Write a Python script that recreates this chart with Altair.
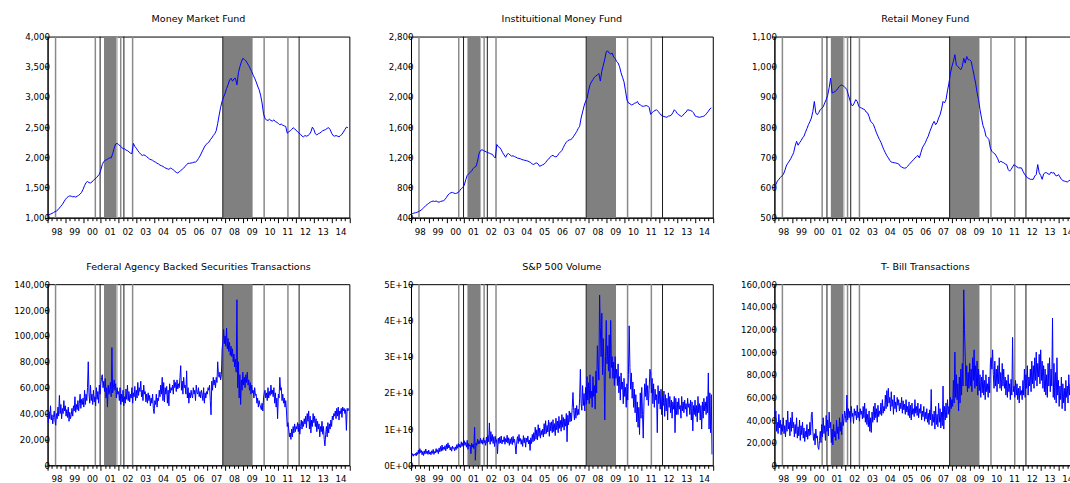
import altair as alt
import pandas as pd

FONT = "DejaVu Sans"

# ---------------- data ----------------
# monthly, Jan 1998 .. Dec 2014 (billions of dollars)
money_market = [
    1040, 1050, 1060, 1070, 1085, 1100, 1110, 1130, 1160, 1190, 1220, 1260,
    1300, 1330, 1350, 1360, 1355, 1345, 1350, 1340, 1355, 1370, 1390, 1420,
    1470, 1530, 1580, 1600, 1580, 1575, 1590, 1620, 1640, 1660, 1690, 1720,
    1790, 1880, 1930, 1950, 1960, 1980, 1990, 1990, 2060, 2150, 2220, 2230,
    2210, 2190, 2170, 2140, 2140, 2120, 2110, 2090, 2070, 2060, 2230, 2180,
    2150, 2110, 2080, 2050, 2030, 2040, 2030, 2010, 1990, 1970, 1960, 1950,
    1930, 1920, 1900, 1890, 1870, 1860, 1850, 1830, 1820, 1810, 1800, 1820,
    1815, 1790, 1770, 1750, 1740, 1760, 1780, 1800, 1820, 1850, 1880, 1900,
    1900, 1905, 1910, 1920, 1920, 1940, 1980, 2020, 2070, 2120, 2170, 2210,
    2230, 2250, 2290, 2320, 2360, 2390, 2440, 2560, 2700, 2830, 2930, 3000,
    3060, 3140, 3200, 3280, 3310, 3260, 3300, 3310, 3200, 3400, 3500, 3580,
    3640, 3620, 3600, 3560, 3520, 3470, 3420, 3360, 3310, 3250, 3180, 3120,
    3030, 2900, 2720, 2640, 2620, 2610, 2630, 2610, 2600, 2620, 2590, 2580,
    2560, 2540, 2550, 2530, 2520, 2510, 2400, 2420, 2440, 2460, 2490, 2470,
    2450, 2420, 2400, 2380, 2350, 2340, 2360, 2350, 2360, 2380, 2420, 2500,
    2460, 2390, 2370, 2390, 2400, 2420, 2440, 2450, 2460, 2480, 2490, 2460,
    2400, 2360, 2350, 2360, 2350, 2340, 2360, 2380, 2420, 2460, 2500, 2490,
]
institutional = [
    450, 455, 460, 465, 470, 480, 490, 500, 520, 540, 560, 575,
    590, 605, 615, 620, 615, 620, 610, 605, 615, 620, 625, 640,
    670, 700, 720, 730, 735, 725, 720, 725, 735, 760, 785, 800,
    830, 900, 960, 980, 1000, 1020, 1050, 1070, 1080, 1150, 1250, 1290,
    1300, 1290, 1280, 1270, 1260, 1255, 1245, 1240, 1210, 1190, 1370, 1340,
    1330, 1300, 1260, 1230, 1200, 1240, 1250, 1230, 1215, 1220, 1210, 1200,
    1190, 1185, 1180, 1170, 1165, 1160, 1155, 1150, 1140, 1130, 1110, 1105,
    1120, 1125, 1110, 1080, 1090, 1100, 1110, 1130, 1160, 1175, 1200, 1220,
    1225, 1210, 1205, 1220, 1250, 1270, 1290, 1330, 1370, 1400, 1420, 1430,
    1435, 1450, 1480, 1510, 1540, 1580, 1610, 1720, 1800, 1880, 1940, 1980,
    2080, 2160, 2200, 2230, 2260, 2280, 2290, 2310, 2210, 2340, 2420, 2500,
    2600, 2610, 2580, 2570, 2580, 2530, 2510, 2470, 2450, 2400, 2320, 2260,
    2200, 2080, 1960, 1920, 1910, 1895, 1900, 1915, 1920, 1940, 1905, 1895,
    1880, 1875, 1880, 1885, 1880, 1860, 1770, 1790, 1810, 1820, 1830, 1810,
    1785, 1760, 1750, 1740, 1735, 1730, 1745, 1750, 1760, 1790, 1830, 1810,
    1780, 1765, 1750, 1740, 1760, 1785, 1800, 1830, 1825, 1820, 1810, 1790,
    1750, 1740, 1735, 1730, 1735, 1740, 1745, 1760, 1785, 1810, 1840, 1855,
]
retail = [
    594, 610, 621, 627, 633, 638, 643, 655, 671, 680, 687, 695,
    705, 715, 737, 753, 740, 748, 755, 764, 770, 783, 795, 808,
    818, 830, 852, 885, 847, 841, 848, 858, 862, 867, 880, 891,
    905, 930, 962, 913, 915, 918, 922, 929, 935, 940, 938, 935,
    930, 924, 907, 890, 874, 871, 880, 891, 885, 869, 865, 863,
    860, 858, 850, 847, 835, 819, 815, 808, 795, 781, 770, 759,
    750, 737, 725, 715, 705, 698, 690, 684, 683, 682, 681, 680,
    678, 671, 668, 665, 664, 665, 670, 676, 681, 687, 692, 698,
    702, 706, 698, 715, 731, 740, 748, 760, 770, 785, 797, 810,
    819, 808, 815, 830, 841, 860, 885, 880, 891, 920, 946, 979,
    1001, 1018, 1040, 1006, 1001, 995, 990, 1001, 1028, 1012, 1034, 1023,
    1023, 1018, 995, 970, 946, 915, 891, 858, 830, 805, 792, 770,
    765, 759, 730, 720, 715, 712, 704, 695, 682, 687, 684, 682,
    678, 676, 660, 654, 660, 668, 676, 671, 668, 665, 665, 665,
    654, 645, 638, 632, 630, 627, 627, 627, 638, 643, 676, 649,
    640, 627, 645, 649, 649, 645, 643, 651, 648, 649, 640, 638,
    643, 635, 627, 623, 621, 620, 618, 622, 625, 628, 624, 626,
]

# semi-monthly, 1998 .. 2014 (24 values per year)
agency_thousands = [
    38, 33, 41, 36, 46, 35, 39, 32, 37, 42, 35, 31, 40, 36, 45, 38, 54, 40, 47, 36, 44, 40, 50, 42,
    46, 38, 43, 37, 45, 34, 41, 36, 39, 44, 38, 46, 42, 53, 41, 47, 43, 50, 42, 48, 55, 44, 51, 47,
    52, 45, 58, 47, 55, 50, 60, 80, 56, 48, 62, 50, 55, 47, 58, 49, 53, 46, 60, 51, 57, 48, 62, 55,
    63, 68, 70, 60, 65, 57, 67, 52, 60, 45, 62, 55, 58, 64, 53, 91, 56, 60, 66, 58, 63, 52, 60, 55,
    57, 50, 60, 47, 55, 49, 58, 46, 53, 48, 59, 51, 62, 50, 57, 49, 55, 52, 60, 48, 56, 53, 61, 50,
    58, 52, 64, 54, 60, 57, 65, 53, 58, 50, 62, 55, 57, 49, 55, 48, 56, 50, 54, 46, 52, 48, 55, 44,
    40, 50, 47, 55, 45, 52, 50, 58, 53, 62, 55, 68, 50, 64, 49, 60, 55, 61, 48, 58, 46, 63, 56, 60,
    58, 62, 55, 66, 60, 64, 57, 66, 59, 63, 60, 68, 77, 58, 65, 55, 68, 60, 62, 55, 73, 52, 60, 48,
    56, 52, 58, 54, 52, 60, 55, 58, 50, 62, 56, 55, 60, 53, 57, 52, 58, 55, 50, 60, 48, 56, 52, 57,
    55, 60, 58, 62, 50, 39, 65, 58, 68, 62, 66, 60, 68, 64, 80, 70, 68, 72, 66, 70, 90, 95, 105, 94,
    100, 92, 106, 90, 98, 88, 95, 85, 92, 84, 90, 80, 86, 76, 82, 72, 128, 60, 80, 52, 70, 47, 66, 58,
    72, 62, 68, 60, 70, 64, 72, 62, 66, 58, 64, 55, 62, 56, 58, 52, 60, 54, 55, 48, 52, 45, 50, 47,
    45, 43, 48, 42, 52, 56, 58, 52, 56, 50, 60, 52, 57, 54, 62, 55, 58, 53, 60, 48, 56, 45, 52, 36,
    55, 52, 68, 58, 60, 50, 55, 48, 52, 45, 50, 42, 30, 33, 28, 22, 25, 20, 28, 22, 30, 25, 32, 26,
    30, 28, 33, 26, 32, 24, 30, 35, 28, 34, 30, 36, 32, 38, 29, 40, 34, 42, 28, 38, 25, 35, 30, 40,
    33, 38, 30, 36, 26, 34, 28, 32, 22, 30, 26, 34, 24, 30, 20, 15, 24, 30, 22, 33, 25, 32, 28, 35,
    30, 38, 35, 40, 38, 42, 36, 44, 38, 45, 35, 42, 40, 44, 37, 45, 42, 44, 40, 43, 27, 44, 42, 44,
]
sp500_volume_e9 = [
    3.0, 2.7, 3.2, 2.5, 3.1, 2.8, 3.3, 2.6, 3.6, 3.0, 4.2, 3.2, 4.6, 3.5, 4.1, 2.9, 3.8, 2.7, 4.0, 3.1, 4.5, 3.3, 3.9, 3.0,
    4.2, 3.1, 3.7, 2.9, 4.0, 3.3, 4.4, 3.0, 3.8, 3.4, 4.6, 3.6, 4.3, 3.2, 4.8, 3.7, 5.2, 3.9, 5.6, 4.1, 5.0, 4.4, 5.4, 4.0,
    5.8, 4.5, 6.2, 4.8, 5.5, 4.2, 5.0, 3.9, 5.3, 4.6, 4.9, 4.0, 5.1, 4.3, 5.7, 4.7, 6.0, 5.0, 5.8, 4.9, 6.5, 5.2, 6.2, 5.4,
    6.8, 5.5, 6.3, 5.0, 6.9, 4.4, 6.0, 5.3, 5.6, 3.2, 6.1, 5.0, 5.8, 4.6, 10.5, 1.4, 6.2, 5.5, 7.2, 5.9, 6.8, 6.0, 7.5, 6.1,
    7.0, 5.8, 7.6, 6.2, 6.9, 5.5, 7.8, 6.1, 8.2, 6.5, 11.7, 5.8, 9.3, 6.6, 8.5, 6.0, 7.9, 5.2, 8.0, 6.3, 7.1, 3.2, 7.5, 6.0,
    7.8, 6.2, 8.1, 5.9, 7.0, 6.5, 7.9, 5.8, 7.4, 6.4, 8.3, 6.1, 7.6, 5.5, 7.3, 6.0, 7.7, 5.7, 8.0, 6.3, 7.2, 5.4, 3.1, 6.5,
    7.9, 6.0, 8.5, 6.6, 7.4, 5.8, 7.1, 5.2, 8.2, 6.2, 7.6, 5.0, 7.5, 6.4, 8.1, 5.9, 7.0, 4.1, 7.6, 6.0, 8.5, 6.5, 9.0, 6.8,
    10.5, 7.2, 9.8, 7.0, 11.2, 8.0, 10.3, 7.5, 9.6, 8.4, 10.0, 7.8, 11.5, 8.6, 12.3, 8.8, 11.0, 9.2, 12.5, 8.0, 11.8, 9.5, 12.0, 9.0,
    12.6, 9.3, 11.5, 8.2, 13.0, 9.8, 12.2, 9.0, 13.5, 10.2, 12.4, 9.4, 14.0, 10.5, 13.2, 9.7, 12.8, 10.8, 14.3, 6.5, 13.8, 11.2, 15.0, 12.0,
    14.5, 12.2, 16.0, 20.1, 15.2, 12.5, 15.8, 13.0, 16.5, 13.8, 15.5, 14.0, 18.5, 26.5, 17.0, 15.2, 22.0, 16.5, 19.8, 15.0, 21.5, 16.8, 24.5, 18.0,
    22.8, 17.0, 25.0, 18.5, 20.5, 16.0, 24.5, 19.0, 22.0, 15.5, 26.0, 20.0, 33.0, 28.0, 23.5, 47.0, 38.0, 30.0, 42.0, 25.0, 35.0, 27.0, 12.5, 30.0,
    40.0, 28.0, 33.0, 26.0, 36.0, 24.0, 40.0, 27.0, 30.0, 24.0, 28.5, 22.0, 30.0, 24.0, 26.5, 22.0, 28.0, 20.0, 24.5, 18.0, 25.5, 21.0, 23.0, 17.0,
    24.0, 19.0, 21.5, 16.0, 22.5, 18.0, 25.0, 38.5, 27.0, 21.0, 25.5, 18.5, 23.0, 16.0, 21.0, 14.5, 19.5, 12.0, 17.5, 10.5, 16.0, 8.5, 20.0, 13.0,
    21.5, 14.0, 7.5, 17.5, 22.5, 19.0, 24.0, 18.0, 22.0, 16.5, 21.0, 26.5, 25.5, 20.0, 24.0, 17.0, 22.5, 16.0, 21.0, 18.0, 19.5, 9.0, 22.0, 17.0,
    20.5, 15.5, 21.0, 14.0, 19.0, 16.5, 20.5, 13.5, 19.5, 15.0, 18.5, 12.5, 20.0, 16.0, 19.0, 14.5, 18.0, 13.0, 17.5, 15.5, 19.0, 9.0, 18.5, 14.0,
    17.5, 14.0, 18.5, 15.5, 16.5, 13.0, 19.0, 15.0, 17.5, 14.5, 18.0, 15.5, 17.0, 13.5, 18.5, 16.0, 17.0, 14.0, 18.0, 12.5, 17.5, 9.5, 16.5, 14.0,
    18.0, 13.5, 16.5, 12.0, 19.0, 14.5, 17.0, 12.5, 16.5, 10.0, 17.5, 13.0, 18.5, 15.0, 17.5, 14.0, 19.0, 14.5, 25.5, 10.0, 20.0, 9.0, 19.5, 3.0,
]
tbill_thousands = [
    50, 42, 48, 30, 38, 28, 45, 33, 40, 27, 36, 30, 42, 28, 35, 25, 40, 30, 48, 32, 38, 26, 42, 30,
    47, 33, 38, 25, 36, 28, 42, 24, 34, 26, 40, 22, 35, 27, 38, 24, 33, 21, 30, 25, 36, 23, 32, 26,
    38, 27, 45, 47, 30, 22, 28, 18, 32, 24, 26, 16, 14, 22, 30, 20, 36, 25, 42, 28, 35, 22, 44, 30,
    40, 26, 47, 33, 38, 20, 32, 18, 36, 25, 30, 22, 40, 28, 34, 23, 42, 30, 38, 27, 45, 35, 40, 48,
    44, 38, 62, 40, 50, 42, 48, 38, 52, 43, 46, 37, 50, 44, 48, 40, 53, 42, 47, 39, 50, 45, 48, 41,
    52, 42, 55, 38, 50, 36, 45, 34, 48, 30, 42, 29, 47, 38, 52, 40, 55, 42, 50, 38, 53, 43, 48, 45,
    55, 44, 58, 46, 52, 48, 62, 50, 66, 52, 68, 55, 60, 48, 65, 52, 58, 45, 62, 50, 56, 47, 60, 53,
    58, 48, 55, 50, 60, 46, 57, 49, 54, 45, 58, 47, 52, 44, 56, 42, 53, 40, 55, 45, 50, 43, 58, 46,
    52, 44, 55, 42, 50, 46, 54, 40, 48, 43, 52, 39, 47, 41, 50, 38, 46, 36, 49, 40, 67, 35, 45, 38,
    48, 32, 52, 36, 45, 34, 55, 38, 50, 33, 47, 35, 70, 32, 52, 40, 55, 42, 58, 45, 52, 47, 60, 50,
    58, 52, 75, 55, 100, 60, 80, 58, 72, 48, 78, 55, 85, 62, 90, 70, 155, 120, 95, 70, 88, 65, 82, 68,
    90, 70, 85, 65, 95, 75, 102, 68, 88, 70, 92, 62, 85, 66, 80, 60, 78, 64, 84, 62, 75, 58, 80, 65,
    72, 60, 78, 64, 90, 95, 85, 102, 80, 68, 92, 70, 85, 65, 88, 72, 95, 68, 82, 66, 90, 70, 85, 68,
    78, 62, 75, 60, 80, 65, 72, 58, 76, 62, 113, 65, 70, 60, 75, 62, 72, 58, 68, 55, 70, 62, 66, 58,
    75, 62, 85, 60, 80, 68, 88, 62, 78, 70, 85, 65, 92, 72, 88, 68, 95, 75, 100, 70, 90, 78, 98, 72,
    102, 75, 92, 68, 88, 65, 85, 62, 80, 60, 90, 70, 95, 65, 85, 70, 130, 60, 90, 58, 82, 55, 95, 62,
    75, 52, 70, 58, 78, 50, 72, 55, 68, 48, 75, 60, 70, 55, 80, 62, 72, 58, 78, 55, 70, 60, 75, 62,
]

# shaded periods and event lines (decimal years)
shade_start = [2001.18, 2007.88]
shade_end = [2001.89, 2009.55]
shade_edge_start = [2001.89]
shade_edge_end = [2001.95]
events_gray = [1998.45, 2000.69, 2002.12, 2002.79, 2010.20, 2011.54]
events_dark = [2000.96, 2002.30, 2007.87, 2012.17]

X_START, X_END = 1998, 2015

# ---------------- helpers ----------------
def monthly_df(vals, scale=1.0):
    return pd.DataFrame({"x": [X_START + i / 12 for i in range(len(vals))],
                         "v": [v * scale for v in vals]})

def semi_df(vals, scale=1.0):
    return pd.DataFrame({"x": [X_START + i / 24 for i in range(len(vals))],
                         "v": [v * scale for v in vals]})

shade_df = pd.DataFrame({"s": shade_start, "e": shade_end})
edge_df = pd.DataFrame({"s": shade_edge_start, "e": shade_edge_end})
gray_df = pd.DataFrame({"x": events_gray})
dark_df = pd.DataFrame({"x": events_dark})

x_scale = alt.Scale(domain=[X_START, X_END], nice=False, zero=False)
quarters = [X_START + q / 4 for q in range(0, (X_END - X_START) * 4 + 1)]
x_axis = alt.Axis(
    values=quarters,
    labelExpr="datum.value % 1 == 0.5 ? format(floor(datum.value) % 100, '02d') : ''",
    tickSize={"condition": {"test": "datum.value % 1 == 0", "value": 5}, "value": 3},
    labelPadding=6.5, grid=False, domainColor="black", tickColor="black",
    labelColor="black", labelFont=FONT, labelFontSize=8.7, labelAngle=0,
    labelOverlap=False, labelFlush=False, minExtent=25, maxExtent=25, title=None,
)

W, H = 302.6, 181.6


def panel(title, df, ymin, ymax, ystep, label_expr=None):
    yticks = list(range(ymin, ymax + 1, ystep))
    yax = dict(values=yticks, tickSize=3, labelPadding=-5, grid=False,
               domainColor="black", tickColor="black", labelColor="black",
               labelFont=FONT, labelFontSize=8.7, labelOverlap=False,
               minExtent=44, maxExtent=44, title=None)
    if label_expr:
        yax["labelExpr"] = label_expr
    else:
        yax["format"] = ",d"
    shade = alt.Chart(shade_df).mark_rect(color="#808080").encode(
        x=alt.X("s:Q", scale=x_scale, axis=x_axis, title=None), x2="e:Q")
    edge = alt.Chart(edge_df).mark_rect(color="#b4b4b4").encode(
        x=alt.X("s:Q", scale=x_scale, axis=x_axis, title=None), x2="e:Q")
    gray = alt.Chart(gray_df).mark_rule(color="#8a8a8a", strokeWidth=1.5).encode(
        x=alt.X("x:Q", scale=x_scale, axis=x_axis, title=None))
    dark = alt.Chart(dark_df).mark_rule(color="#1a1a1a", strokeWidth=1).encode(
        x=alt.X("x:Q", scale=x_scale, axis=x_axis, title=None))
    line = alt.Chart(df).mark_line(color="#0000ff", strokeWidth=1, clip=True).encode(
        x=alt.X("x:Q", scale=x_scale, axis=x_axis, title=None),
        y=alt.Y("v:Q", scale=alt.Scale(domain=[ymin, ymax], nice=False, zero=False),
                axis=alt.Axis(**yax), title=None),
    )
    return alt.layer(shade, edge, gray, dark, line).properties(
        width=W, height=H,
        title=alt.TitleParams(text=title, font=FONT, fontSize=9.6, fontWeight="normal",
                              color="black", anchor="middle", frame="group",
                              baseline="bottom", offset=-1),
    )


p1 = panel("Money Market Fund", monthly_df(money_market), 1000, 4000, 500)
p2 = panel("Instituitional Money Fund", monthly_df(institutional), 400, 2800, 400)
p3 = panel("Retail Money Fund", monthly_df(retail), 500, 1100, 100)
p4 = panel("Federal Agency Backed Securities Transactions",
           semi_df(agency_thousands, 1000), 0, 140000, 20000)
p5 = panel("S&P 500 Volume", semi_df(sp500_volume_e9, 1e9), 0, 50000000000, 10000000000,
           label_expr="datum.value == 0 ? '0E+00' : format(datum.value / 1e10, 'd') + 'E+10'")
p6 = panel("T- Bill Transactions", semi_df(tbill_thousands, 1000), 0, 160000, 20000)

row1 = alt.hconcat(p1, p2, p3, spacing=61.4, bounds="flush")
row2 = alt.hconcat(p4, p5, p6, spacing=61.4, bounds="flush")

# with flush bounds the nested rows count as zero height, so the spacing
# is the distance between the two rows' plot tops
chart = alt.vconcat(row1, row2, spacing=248.3, bounds="flush").properties(
    padding={"left": 2.7, "top": 12.0, "right": -7.8, "bottom": -5.6},
    background="white",
).configure_view(stroke="black", strokeWidth=1)

chart.save("out.html", embed_options={"renderer": "svg", "actions": False})
